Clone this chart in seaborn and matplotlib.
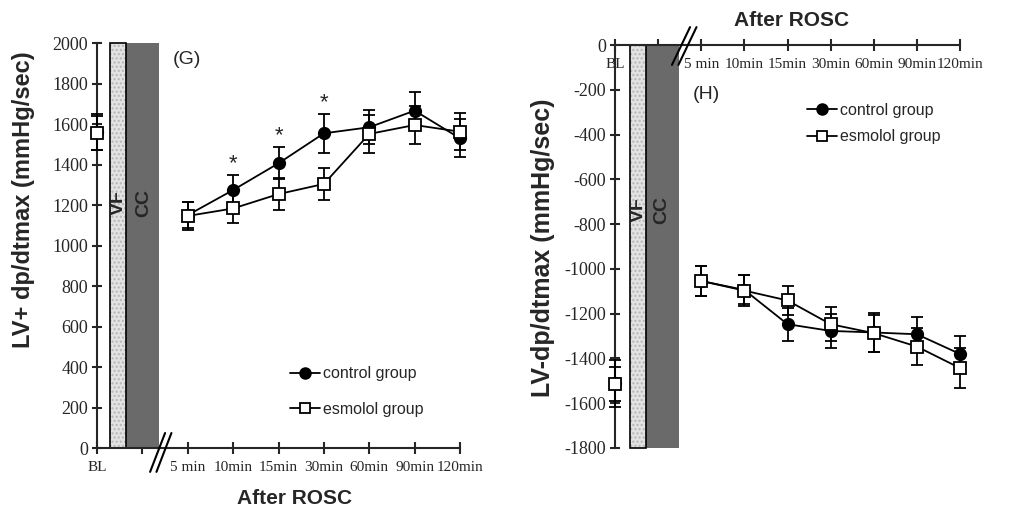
import numpy as np
import pandas as pd
import matplotlib
matplotlib.use("Agg")
import matplotlib.pyplot as plt
import seaborn as sns
from matplotlib.lines import Line2D

# ---------------- data ----------------
timepoints = ["5 min", "10min", "15min", "30min", "60min", "90min", "120min"]
baseline_label = "BL"
groups = ["control group", "esmolol group"]

# Panel G: LV + dp/dtmax
g_bl_mean = [1560, 1555]          # control, esmolol
g_bl_sem = [90, 85]
g_control_mean = [1150, 1274, 1406, 1554, 1584, 1666, 1529]
g_control_sem = [66, 74, 79, 95, 85, 94, 94]
g_esmolol_mean = [1146, 1183, 1254, 1304, 1551, 1595, 1562]
g_esmolol_sem = [70, 74, 79, 78, 95, 95, 91]
g_significant = ["10min", "15min", "30min"]
g_yticks = list(range(0, 2001, 200))

# Panel H: LV - dp/dtmax
h_bl_mean = [-1510, -1515]
h_bl_sem = [105, 75]
h_control_mean = [-1054, -1094, -1247, -1277, -1284, -1292, -1380]
h_control_sem = [65, 65, 73, 76, 85, 76, 81]
h_esmolol_mean = [-1054, -1097, -1141, -1247, -1287, -1347, -1443]
h_esmolol_sem = [66, 68, 65, 77, 82, 84, 91]
h_yticks = list(range(-1800, 1, 200))

# ---------------- style ----------------
sns.set_style("ticks")
plt.rcParams["font.family"] = ["Liberation Sans", "DejaVu Sans"]
plt.rcParams["axes.unicode_minus"] = False
SERIF = "Liberation Serif"
LW = 1.3
MS = 8.2

fig = plt.figure(figsize=(10.18, 5.09), dpi=100)
W, H = 1018.0, 509.0


def fx(px):
    return px / W


def fy(py):
    return 1 - py / H


def build_df(bl_mean, bl_sem, c_mean, c_sem, e_mean, e_sem):
    rows = []
    for gi, (g, m, s) in enumerate(zip(groups, [c_mean, e_mean], [c_sem, e_sem])):
        rows.append(dict(group=g, label=baseline_label, x=0, y=bl_mean[gi], err=bl_sem[gi], phase="BL"))
        for i, (t, v, e) in enumerate(zip(timepoints, m, s)):
            rows.append(dict(group=g, label=t, x=i + 2, y=v, err=e, phase="post"))
    return pd.DataFrame(rows)


styles = {
    "control group": dict(marker="o", face="black", z=4),
    "esmolol group": dict(marker="s", face="white", z=6),
}


def draw_data(ax, df):
    for g in groups:
        st = styles[g]
        sub = df[df["group"] == g]
        ax.errorbar(sub["x"], sub["y"], yerr=sub["err"], fmt="none", ecolor="black",
                    elinewidth=LW, capsize=4, capthick=LW, zorder=st["z"], clip_on=False)
        post = sub[sub["phase"] == "post"]
        sns.lineplot(data=post, x="x", y="y", ax=ax, color="black", lw=LW,
                     marker=st["marker"], markersize=MS, markerfacecolor=st["face"],
                     markeredgecolor="black", markeredgewidth=LW, zorder=st["z"] + 1,
                     legend=False, errorbar=None, clip_on=False)
        bl = sub[sub["phase"] == "BL"]
        ax.plot(bl["x"], bl["y"], ls="none", marker=st["marker"], markersize=MS,
                markerfacecolor=st["face"], markeredgecolor="black",
                markeredgewidth=LW, zorder=st["z"] + 1, clip_on=False)


def bars(ax, vf, cc, ytop, ybot):
    h = ytop - ybot
    ax.bar(vf[0], h, width=vf[1] - vf[0], bottom=ybot, align="edge", color="#e2e2e2",
           edgecolor="#b5b5b5", hatch="....", linewidth=0, zorder=1)
    ax.bar(vf[0], h, width=vf[1] - vf[0], bottom=ybot, align="edge", fill=False,
           edgecolor="black", linewidth=1.2, zorder=1.5)
    ax.bar(cc[0], h, width=cc[1] - cc[0], bottom=ybot, align="edge", color="#6a6a6a",
           linewidth=0, zorder=1)


def axis_setup(ax, yticks, ybounds, minor_dir):
    for s in ["top", "right"]:
        ax.spines[s].set_visible(False)
    ax.spines["left"].set_position(("data", 0))
    ax.spines["bottom"].set_position(("data", 0))
    ax.spines["left"].set_bounds(*ybounds)
    ax.spines["bottom"].set_bounds(0, 8)
    for s in ["left", "bottom"]:
        ax.spines[s].set_linewidth(1.5)
    ax.set_xticks([0] + [i + 2 for i in range(len(timepoints))])
    ax.set_xticklabels([baseline_label] + timepoints)
    ax.set_xticks([1], minor=True)
    ax.set_yticks(yticks)
    ax.set_yticklabels([str(v) for v in yticks])
    ax.tick_params(axis="x", which="major", direction="inout", length=8, width=1.5,
                   pad=5, labelsize=11, labelfontfamily=SERIF)
    ax.tick_params(axis="x", which="minor", direction=minor_dir, length=4, width=1.5)
    ax.tick_params(axis="y", which="major", direction="inout", length=7, width=1.5,
                   pad=3, labelsize=13, labelfontfamily=SERIF)
    ax.set_xlabel("")
    ax.set_ylabel("")
    ax.set_xlim(-0.5, 8.5)


def legend(ax, xpx, ypx, spacing):
    handles = [
        Line2D([], [], color="black", lw=LW, marker=styles[g]["marker"], markersize=MS - 0.5,
               markerfacecolor=styles[g]["face"], markeredgecolor="black", markeredgewidth=LW)
        for g in groups
    ]
    ax.legend(handles, groups, loc="center left", bbox_to_anchor=(fx(xpx), fy(ypx)),
              bbox_transform=fig.transFigure, frameon=False, fontsize=11.5,
              handlelength=1.9, handletextpad=0.15, labelspacing=spacing,
              borderpad=0, borderaxespad=0)


# ---------------- panel G ----------------
axG = fig.add_axes([0.0730, 0.09597, 0.4012, 0.8434])
dfG = build_df(g_bl_mean, g_bl_sem, g_control_mean, g_control_sem, g_esmolol_mean, g_esmolol_sem)
bars(axG, (0.29, 0.64), (0.64, 1.36), 2000, 0)
draw_data(axG, dfG)
axis_setup(axG, g_yticks, (0, 2000), "out")
axG.set_ylim(-60, 2060)
for lab in g_significant:
    r = dfG[(dfG["group"] == "control group") & (dfG["label"] == lab)].iloc[0]
    axG.text(r["x"], r["y"] + r["err"] + 30, "*", ha="center", va="baseline", fontsize=16)
axG.text(0.46, 1210, "VF", rotation=90, ha="center", va="center", fontweight="bold", fontsize=14)
axG.text(1.03, 1210, "CC", rotation=90, ha="center", va="center", fontweight="bold", fontsize=14)
for dx in (0.0, 0.14):
    axG.plot([1.17 + dx, 1.50 + dx], [-118, 74], color="black", lw=1.5, clip_on=False, zorder=8)
legend(axG, 290, 391.5, 1.3)
fig.text(fx(173), fy(59), "(G)", ha="left", va="center", fontsize=14)
fig.text(fx(295), fy(498), "After ROSC", ha="center", va="center", fontweight="bold", fontsize=15)
fig.text(fx(24), fy(200), "LV+ dp/dtmax (mmHg/sec)", rotation=90, ha="center", va="center",
         fontweight="bold", fontsize=17)

# ---------------- panel H ----------------
axH = fig.add_axes([0.58295, 0.09786, 0.38126, 0.8401])
dfH = build_df(h_bl_mean, h_bl_sem, h_control_mean, h_control_sem, h_esmolol_mean, h_esmolol_sem)
bars(axH, (0.35, 0.72), (0.72, 1.49), 0, -1800)
draw_data(axH, dfH)
axis_setup(axH, h_yticks, (-1800, 0), "in")
axH.set_ylim(-1850, 60)
axH.text(0.53, -737, "VF", rotation=90, ha="center", va="center", fontweight="bold", fontsize=14)
axH.text(1.09, -737, "CC", rotation=90, ha="center", va="center", fontweight="bold", fontsize=14)
for dx in (0.0, 0.15):
    axH.plot([1.32 + dx, 1.74 + dx], [-89, 80], color="black", lw=1.5, clip_on=False, zorder=8)
legend(axH, 807, 123.5, 0.7)
fig.text(fx(693), fy(95), "(H)", ha="left", va="center", fontsize=14)
fig.text(fx(792), fy(20), "After ROSC", ha="center", va="center", fontweight="bold", fontsize=15)
fig.text(fx(543), fy(248), "LV-dp/dtmax (mmHg/sec)", rotation=90, ha="center", va="center",
         fontweight="bold", fontsize=18)

fig.savefig("out.png", dpi=100)
